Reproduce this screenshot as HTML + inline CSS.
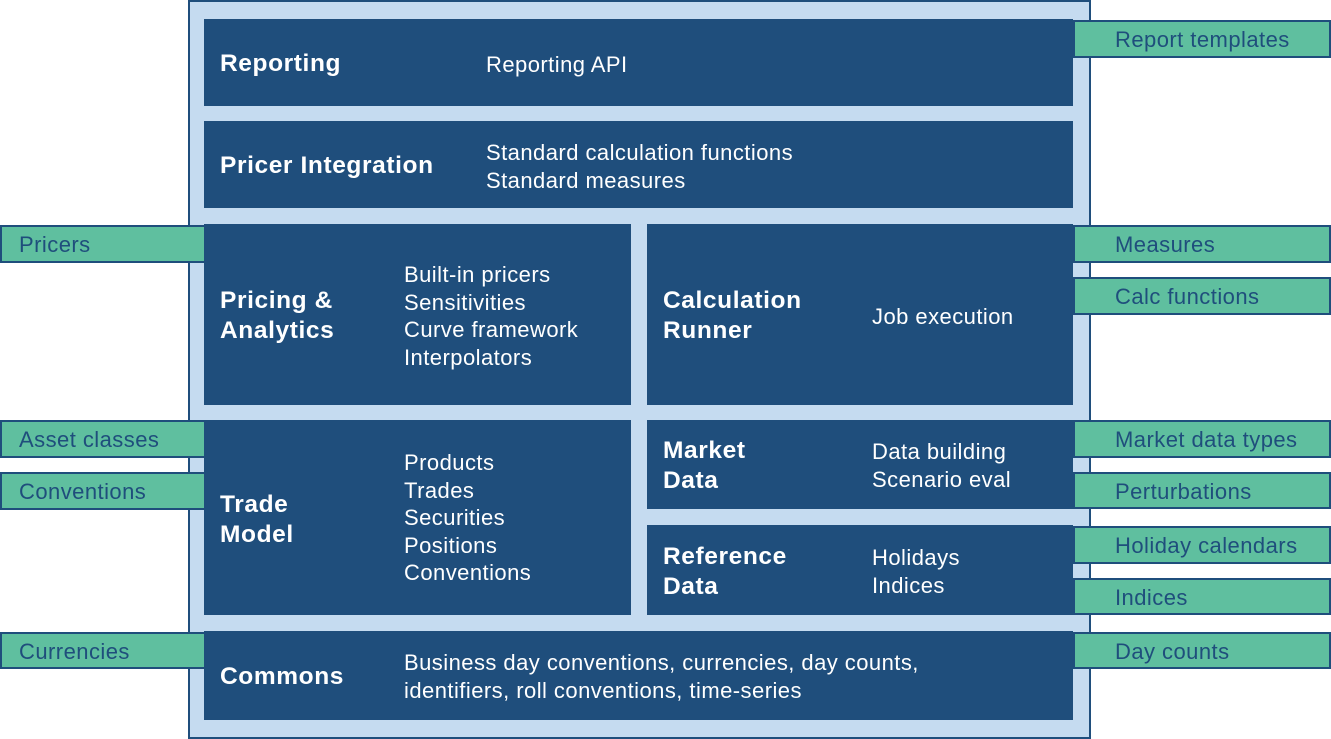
<!DOCTYPE html>
<html><head><meta charset="utf-8"><style>
body{margin:0;width:1331px;height:739px;background:#fff;position:relative;overflow:hidden;font-family:"Liberation Sans",sans-serif}
div{position:absolute;box-sizing:border-box}
.outer{left:188px;top:0;width:903px;height:739px;background:#c5dbf0;border:2px solid #1f4e7c}
.b{background:#1f4e7c;color:#fff}
.t{font-weight:bold;font-size:24.5px;line-height:30px;color:#fff;letter-spacing:0.6px;white-space:nowrap}
.x{font-size:22px;line-height:27.5px;color:#fff;white-space:nowrap;letter-spacing:0.45px}
.g{background:#5fbf9f;border:2px solid #1f4e7c;color:#1f4e7c;font-size:22px;line-height:36px;white-space:nowrap;letter-spacing:0.45px}
.r{left:1073px;width:258px;padding-left:40px}
.l{left:0;width:206px;padding-left:17px}
</style></head><body>
<div class="outer"></div>
<div class="b" style="left:204px;top:19px;width:869px;height:87px"></div>
<div class="b" style="left:204px;top:121px;width:869px;height:87px"></div>
<div class="b" style="left:204px;top:224px;width:427px;height:181px"></div>
<div class="b" style="left:647px;top:224px;width:426px;height:181px"></div>
<div class="b" style="left:204px;top:420px;width:427px;height:195px"></div>
<div class="b" style="left:647px;top:420px;width:426px;height:89px"></div>
<div class="b" style="left:647px;top:525px;width:426px;height:90px"></div>
<div class="b" style="left:204px;top:631px;width:869px;height:89px"></div>

<div class="t" style="left:220px;top:49px">Reporting</div>
<div class="x" style="left:486px;top:51px">Reporting API</div>
<div class="t" style="left:220px;top:151px">Pricer Integration</div>
<div class="x" style="left:486px;top:139px">Standard calculation functions<br>Standard measures</div>
<div class="t" style="left:220px;top:286px">Pricing &amp;<br>Analytics</div>
<div class="x" style="left:404px;top:261px">Built-in pricers<br>Sensitivities<br>Curve framework<br>Interpolators</div>
<div class="t" style="left:663px;top:286px">Calculation<br>Runner</div>
<div class="x" style="left:872px;top:303px">Job execution</div>
<div class="t" style="left:220px;top:490px">Trade<br>Model</div>
<div class="x" style="left:404px;top:449px">Products<br>Trades<br>Securities<br>Positions<br>Conventions</div>
<div class="t" style="left:663px;top:436px">Market<br>Data</div>
<div class="x" style="left:872px;top:438px">Data building<br>Scenario eval</div>
<div class="t" style="left:663px;top:542px">Reference<br>Data</div>
<div class="x" style="left:872px;top:544px">Holidays<br>Indices</div>
<div class="t" style="left:220px;top:662px">Commons</div>
<div class="x" style="left:404px;top:649px">Business day conventions, currencies, day counts,<br>identifiers, roll conventions, time-series</div>

<div class="g r" style="top:20px;height:38px">Report templates</div>
<div class="g r" style="top:225px;height:38px">Measures</div>
<div class="g r" style="top:277px;height:38px">Calc functions</div>
<div class="g r" style="top:420px;height:38px">Market data types</div>
<div class="g r" style="top:472px;height:37px">Perturbations</div>
<div class="g r" style="top:526px;height:38px">Holiday calendars</div>
<div class="g r" style="top:578px;height:37px">Indices</div>
<div class="g r" style="top:632px;height:37px">Day counts</div>

<div class="g l" style="top:225px;height:38px">Pricers</div>
<div class="g l" style="top:420px;height:38px">Asset classes</div>
<div class="g l" style="top:472px;height:38px">Conventions</div>
<div class="g l" style="top:632px;height:37px">Currencies</div>
</body></html>
